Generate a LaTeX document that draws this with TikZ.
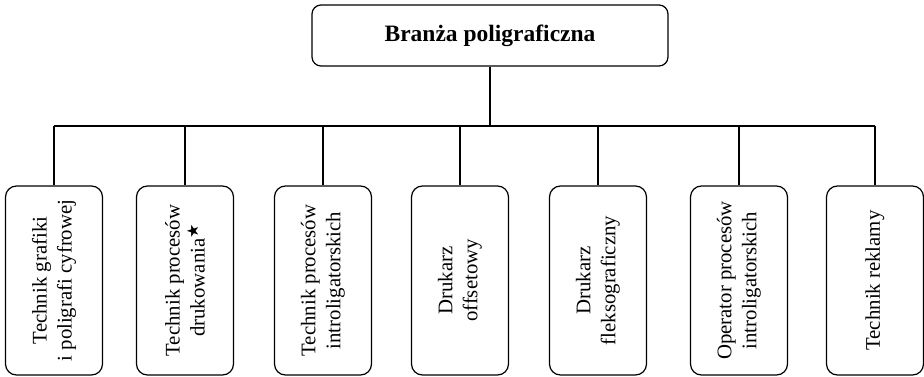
\documentclass[tikz,border=0pt]{standalone}
\usepackage{fontspec}
\setmainfont{Liberation Serif}
\newfontfamily\symfont{DejaVu Sans}
\begin{document}
\begin{tikzpicture}[x=1pt,y=-1pt,
  every path/.style={line width=1.2pt},
  topbox/.style={draw, rounded corners=9pt, line width=1.2pt, minimum width=356pt, minimum height=61pt, inner sep=0pt, font=\fontsize{23.5}{28}\selectfont\bfseries},
  jobbox/.style={draw, rounded corners=11pt, line width=1.2pt, minimum width=97pt, minimum height=189pt, inner sep=0pt},
  jobtext/.style={rotate=90, align=center, inner sep=0pt, font=\fontsize{20.8}{25}\selectfont}]
\useasboundingbox (0,0) rectangle (924,377);
\node[topbox] (top) at (490,35.5) {Branża poligraficzna};
\coordinate (bar) at (0,126);
\foreach \i/\x in {1/54,2/185,3/323,4/460,5/598,6/739,7/875}
  \node[jobbox] (b\i) at (\x,280.5) {};
\node[jobtext] (t1) at (b1.center) {Technik grafiki\\i poligrafi cyfrowej};
\node[jobtext] (t2) at (b2.center) {Technik procesów\\drukowania\raisebox{0.3em}{\symfont\fontsize{16}{16}\selectfont★}};
\node[jobtext] (t3) at (b3.center) {Technik procesów\\introligatorskich};
\node[jobtext] (t4) at (b4.center) {Drukarz\\offsetowy};
\node[jobtext] (t5) at (b5.center) {Drukarz\\fleksograficzny};
\node[jobtext] (t6) at (b6.center) {Operator procesów\\introligatorskich};
\node[jobtext] (t7) at (b7.center) {Technik reklamy};
\draw (top.south) -- (top.south |- bar);
\draw (b1.north |- bar) -- (b7.north |- bar);
\foreach \i in {1,...,7}
  \draw (b\i.north |- bar) -- (b\i.north);
\end{tikzpicture}
\end{document}
